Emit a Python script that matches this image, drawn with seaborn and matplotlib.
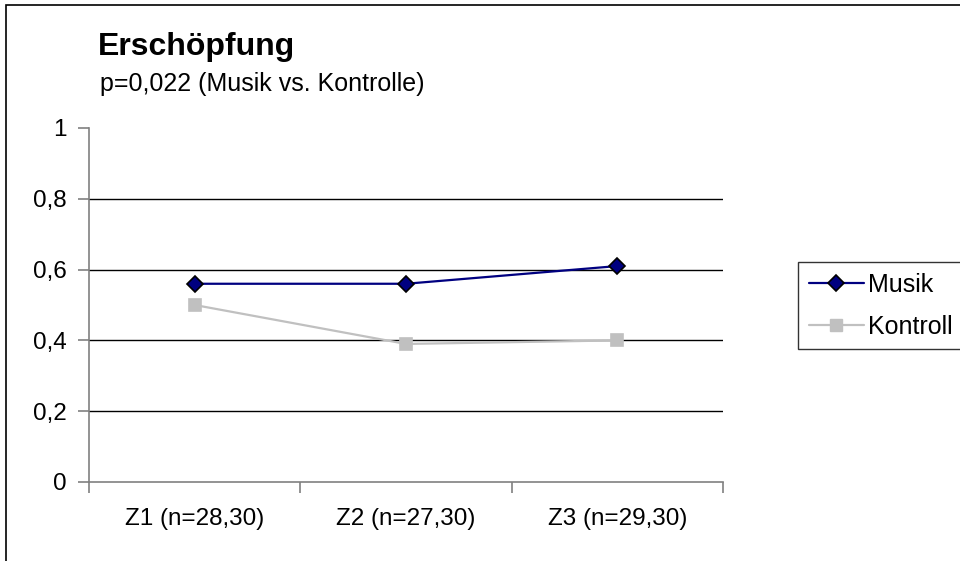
import matplotlib
matplotlib.use("Agg")
import matplotlib.pyplot as plt
from matplotlib.patches import Rectangle
from matplotlib.lines import Line2D
import seaborn as sns
import pandas as pd

# Messzeitpunkte und Mittelwerte je Gruppe
zeitpunkte = ["Z1 (n=28,30)", "Z2 (n=27,30)", "Z3 (n=29,30)"]
musik = [0.56, 0.56, 0.61]
kontrolle = [0.50, 0.39, 0.40]
gruppen = ["Musik", "Kontrolle"]
legenden_text = ["Musik", "Kontroll"]
y_ticks = [0, 0.2, 0.4, 0.6, 0.8, 1.0]
y_labels = ["0", "0,2", "0,4", "0,6", "0,8", "1"]

df = pd.DataFrame({
    "Zeitpunkt": zeitpunkte * 2,
    "Wert": musik + kontrolle,
    "Gruppe": [gruppen[0]] * 3 + [gruppen[1]] * 3,
})

sns.set_theme(style="white")
plt.rcParams["font.family"] = ["Liberation Sans", "DejaVu Sans"]
plt.rcParams["text.color"] = "black"
plt.rcParams["xtick.color"] = "black"
plt.rcParams["ytick.color"] = "black"

fig = plt.figure(figsize=(9.6, 5.61), dpi=100)
W, H = 960, 561
ax = fig.add_axes([89 / W, 1 - 482 / H, (723 - 89) / W, (482 - 128) / H])

sns.lineplot(
    data=df, x="Zeitpunkt", y="Wert", hue="Gruppe", style="Gruppe",
    palette={"Musik": "#000080", "Kontrolle": "#C0C0C0"},
    markers={"Musik": "D", "Kontrolle": "s"}, dashes=False,
    linewidth=1.6, markersize=8, ax=ax, legend=False, zorder=3,
)
# marker edges: black diamonds, borderless grey squares
for line, edge in zip(ax.lines, ["black", "#C0C0C0"]):
    line.set_markeredgecolor(edge)
    line.set_markeredgewidth(1.2)

ax.set_xlim(-0.5, 2.5)
ax.set_ylim(0, 1)
ax.set_yticks(y_ticks)
ax.set_yticklabels(y_labels)
ax.set_xlabel("")
ax.set_ylabel("")

# horizontal gridlines (none at the top value)
for v in y_ticks[1:-1]:
    ax.axhline(v, color="black", linewidth=1.0, zorder=1)

for side in ["top", "right"]:
    ax.spines[side].set_visible(False)
for side in ["left", "bottom"]:
    ax.spines[side].set_color("#808080")
    ax.spines[side].set_linewidth(1.2)

ax.tick_params(axis="y", which="major", direction="out", length=8, width=1.2,
               color="#808080", labelcolor="black", labelsize=17.5, pad=8, left=True)
ax.tick_params(axis="x", which="major", length=0, labelsize=17.5,
               labelcolor="black", pad=19)
ax.set_xticks([-0.5, 0.5, 1.5, 2.5], minor=True)
ax.tick_params(axis="x", which="minor", direction="out", length=8, width=1.2,
               color="#808080", bottom=True)

# titles
fig.text(98 / W, 1 - 55 / H, "Erschöpfung", fontsize=23, fontweight="bold",
         color="black", ha="left", va="baseline")
fig.text(100 / W, 1 - 91 / H, "p=0,022 (Musik vs. Kontrolle)", fontsize=18,
         color="black", ha="left", va="baseline")

# legend
handles = [
    Line2D([], [], color="#000080", linewidth=1.6, marker="D", markersize=8,
           markerfacecolor="#000080", markeredgecolor="black", markeredgewidth=1.2),
    Line2D([], [], color="#C0C0C0", linewidth=1.6, marker="s", markersize=8,
           markerfacecolor="#C0C0C0", markeredgecolor="#C0C0C0"),
]
leg = fig.legend(handles, legenden_text, loc="upper left",
                 bbox_to_anchor=(798 / W, 1 - 262 / H), bbox_transform=fig.transFigure,
                 fontsize=18, frameon=True, fancybox=False, borderaxespad=0,
                 handlelength=2.2, handletextpad=0.2, labelspacing=0.72,
                 borderpad=0.42)
leg.get_frame().set_edgecolor("black")
leg.get_frame().set_linewidth(1.0)
for t in leg.get_texts():
    t.set_color("black")

# outer chart frame
fig.patches.append(Rectangle((6 / W, -0.2), 1.2, 1 - 5 / H + 0.2,
                             transform=fig.transFigure, fill=False,
                             edgecolor="black", linewidth=1.2, clip_on=False))

fig.savefig("out.png", dpi=100)
